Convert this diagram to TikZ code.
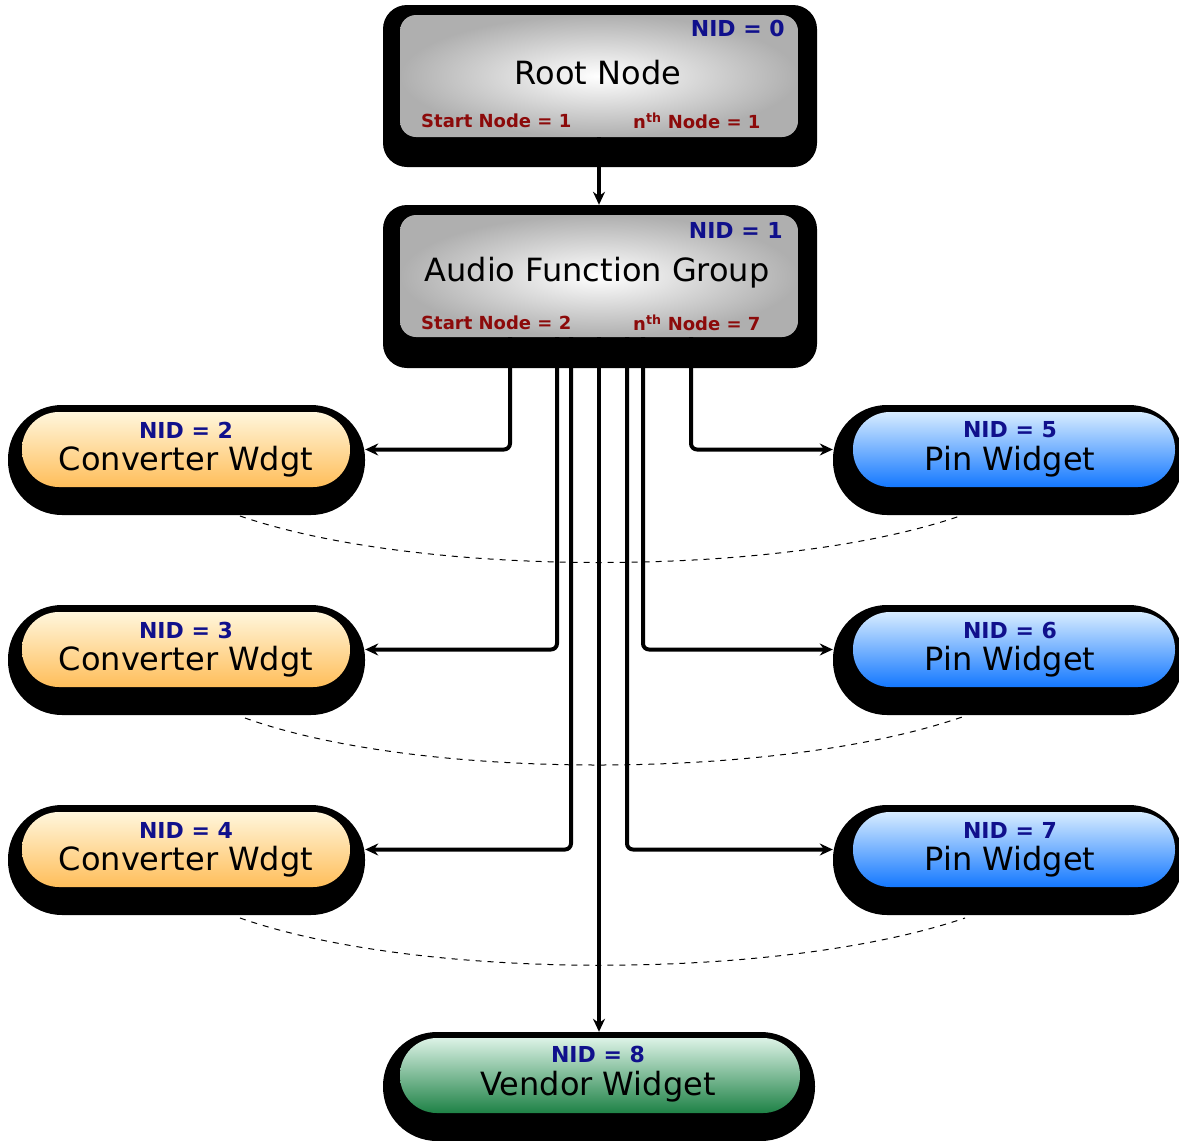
\documentclass[tikz,border=0pt]{standalone}
\usepackage{fontspec}
\setmainfont{DejaVu Sans}
\usetikzlibrary{arrows.meta}
\definecolor{nidblue}{RGB}{16,16,140}
\definecolor{nodered}{RGB}{140,10,10}
\definecolor{greyout}{RGB}{175,175,175}
\definecolor{convtop}{RGB}{255,246,220}
\definecolor{convbot}{RGB}{255,190,90}
\definecolor{pintop}{RGB}{215,236,255}
\definecolor{pinbot}{RGB}{20,120,255}
\definecolor{vendtop}{RGB}{220,242,230}
\definecolor{vendbot}{RGB}{30,130,70}
\begin{document}
\begin{tikzpicture}[x=1pt,y=-1pt,
  shadowbox/.style={fill=black, draw=none, rounded corners=24pt, inner sep=0pt},
  shadowpill/.style={fill=black, draw=none, rounded corners=54pt, inner sep=0pt, minimum width=357pt, minimum height=110pt},
  greybox/.style={draw=none, rounded corners=16pt, inner color=white, outer color=greyout, inner sep=0pt, minimum width=398pt, minimum height=122pt},
  convpill/.style={draw=none, rounded corners=37pt, top color=convtop, bottom color=convbot, inner sep=0pt, minimum width=328pt, minimum height=75pt},
  pinpill/.style={draw=none, rounded corners=37pt, top color=pintop, bottom color=pinbot, inner sep=0pt, minimum width=322pt, minimum height=75pt},
  vendpill/.style={draw=none, rounded corners=37pt, top color=vendtop, bottom color=vendbot, inner sep=0pt, minimum width=400pt, minimum height=75pt},
  nid/.style={text=nidblue, font=\fontsize{22}{24}\selectfont\bfseries, inner sep=0pt},
  title/.style={text=black, font=\fontsize{32}{34}\selectfont, inner sep=0pt},
  startlbl/.style={text=nodered, font=\fontsize{18}{20}\selectfont\bfseries, inner sep=0pt, anchor=west},
  conn/.style={line width=4pt, rounded corners=6pt, -{Stealth[length=13pt,width=12pt]}},
  dashcurve/.style={line width=1pt, dash pattern=on 6pt off 6pt},
]
\useasboundingbox (0,0) rectangle (1179,1141);

% dashed curves
\draw[dashcurve] (240,516) .. controls (420,578) and (780,578) .. (960,516);
\draw[dashcurve] (245,718) .. controls (420,781) and (780,781) .. (965,716);
\draw[dashcurve] (240,918) .. controls (420,981) and (780,981) .. (965,918);

% shadows
\node[shadowbox, minimum width=434pt, minimum height=162pt] (roots) at (600,86) {};
\node[shadowbox, minimum width=434pt, minimum height=163pt] (afgs) at (600,286.5) {};
\node[shadowpill] (c2s) at (186.5,460) {};
\node[shadowpill] (c3s) at (186.5,660) {};
\node[shadowpill] (c4s) at (186.5,860) {};
\node[shadowpill, minimum width=350pt] (p5s) at (1008,460) {};
\node[shadowpill, minimum width=350pt] (p6s) at (1008,660) {};
\node[shadowpill, minimum width=350pt] (p7s) at (1008,860) {};
\node[shadowpill, minimum width=432pt, minimum height=109pt] (vends) at (599,1086.5) {};

% boxes
\node[greybox] (root) at (599,76) {};
\node[greybox] (afg) at (599,276) {};
\node[convpill] (c2) at (186,449.5) {};
\node[convpill] (c3) at (186,649.5) {};
\node[convpill] (c4) at (186,849.5) {};
\node[pinpill] (p5) at (1014,449.5) {};
\node[pinpill] (p6) at (1014,649.5) {};
\node[pinpill] (p7) at (1014,849.5) {};
\node[vendpill] (vend) at (600,1075.5) {};

% texts
\node[nid, anchor=east] (rootnid) at (785,28) {NID = 0};
\node[title] (roottitle) at (598,73) {Root Node};
\node[startlbl] (rootstart) at (421,121) {Start Node = 1};
\node[startlbl] (rootnth) at (633,121) {n\textsuperscript{th} Node = 1};

\node[nid, anchor=east] (afgnid) at (783,230) {NID = 1};
\node[title] (afgtitle) at (597,273) {Audio Function Group};
\node[startlbl] (afgstart) at (421,323) {Start Node = 2};
\node[startlbl] (afgnth) at (633,323) {n\textsuperscript{th} Node = 7};

\node[nid] (c2nid) at (186,430) {NID = 2};
\node[title] (c2t) at (186,462) {Converter Wdgt};
\node[nid] (c3nid) at (186,630) {NID = 3};
\node[title] (c3t) at (186,662) {Converter Wdgt};
\node[nid] (c4nid) at (186,830) {NID = 4};
\node[title] (c4t) at (186,862) {Converter Wdgt};

\node[nid] (p5nid) at (1010,430) {NID = 5};
\node[title] (p5t) at (1010,462) {Pin Widget};
\node[nid] (p6nid) at (1010,630) {NID = 6};
\node[title] (p6t) at (1010,662) {Pin Widget};
\node[nid] (p7nid) at (1010,830) {NID = 7};
\node[title] (p7t) at (1010,862) {Pin Widget};

\node[nid] (vendnid) at (598,1054) {NID = 8};
\node[title] (vendt) at (598,1087) {Vendor Widget};

% connectors
\draw[conn] (root.south) -- (root.south |- afgs.north);
\draw[conn] ([xshift=-89pt]afg.south) |- (c2s.east |- c2.east);
\draw[conn] ([xshift=-42pt]afg.south) |- (c3s.east |- c3.east);
\draw[conn] ([xshift=-28pt]afg.south) |- (c4s.east |- c4.east);
\draw[conn] (afg.south) -- (afg.south |- vends.north);
\draw[conn] ([xshift=28pt]afg.south) |- (p7s.west |- p7.west);
\draw[conn] ([xshift=44pt]afg.south) |- (p6s.west |- p6.west);
\draw[conn] ([xshift=92pt]afg.south) |- (p5s.west |- p5.west);
\end{tikzpicture}
\end{document}
